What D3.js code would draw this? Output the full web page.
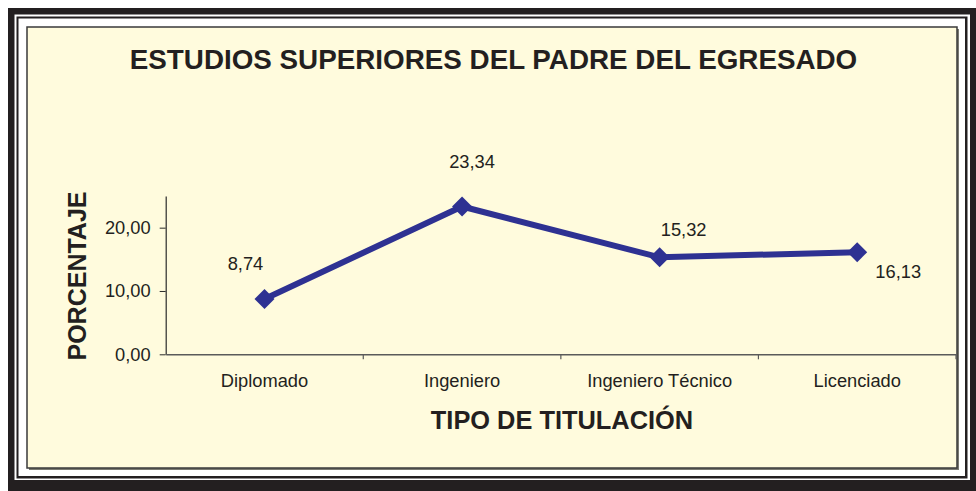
<!DOCTYPE html>
<html>
<head>
<meta charset="utf-8">
<script src="https://cdn.jsdelivr.net/npm/d3@7"></script>
<style>
  body { margin: 0; background: #fff; }
  svg { display: block; }
  text { font-family: Arial, "Liberation Sans", Helvetica, sans-serif; fill: #231f20; }
</style>
</head>
<body>
<svg id="chart"></svg>
<script>
// data
const categories = ["Diplomado", "Ingeniero", "Ingeniero Técnico", "Licenciado"];
const values = [8.74, 23.34, 15.32, 16.13];
const yTicks = [0, 10, 20];

// where Excel dropped each value label, relative to its marker
const labelOffsets = [[-19, -29], [10, -39], [24, -21], [41, 26]];

const width = 976;
const height = 491;
const ink = "#231f20";
const lineColor = "#2e3192";

const svg = d3.select("#chart")
  .attr("width", width)
  .attr("height", height);

// the black / white frame round the panel
svg.append("rect").attr("x", 8).attr("y", 8).attr("width", 968).attr("height", 483).attr("fill", ink);
svg.append("rect").attr("x", 14.5).attr("y", 14.5).attr("width", 955.5).attr("height", 465.5).attr("fill", "#fff");
svg.append("rect").attr("x", 16.5).attr("y", 16.5).attr("width", 951).attr("height", 462).attr("fill", ink);
svg.append("rect").attr("x", 18.5).attr("y", 18.5).attr("width", 946.5).attr("height", 457.5).attr("fill", "#fff");

// panel with a small drop shadow
svg.append("rect").attr("x", 29).attr("y", 29).attr("width", 930).attr("height", 441).attr("fill", "#7a7a72");
svg.append("rect").attr("x", 27).attr("y", 27).attr("width", 930).attr("height", 441)
  .attr("fill", "#fffbdd").attr("stroke", "#3a3a3a").attr("stroke-width", 1.5);

// scales
const x = d3.scaleBand()
  .domain(categories)
  .range([165.7, 956])
  .padding(0);

const y = d3.scaleLinear()
  .domain([0, 25])
  .range([354.3, 196]);

const es = d3.formatLocale({ decimal: ",", thousands: ".", grouping: [3], currency: ["", " €"] });
const fmt = es.format(".2f");

// y axis
const yAxis = svg.append("g")
  .attr("transform", "translate(165.7,0)")
  .call(d3.axisLeft(y).tickValues(yTicks).tickFormat(fmt).tickSize(6).tickSizeOuter(0).tickPadding(9));
yAxis.select(".domain").attr("stroke", "#2a2a2a").attr("stroke-width", 1.2);
yAxis.selectAll(".tick line").attr("stroke", "#2a2a2a");
yAxis.selectAll(".tick text").style("font-size", "18.3px").attr("fill", ink);

// x axis, ticks sit on the category boundaries
const xAxis = svg.append("g")
  .attr("transform", "translate(0,354.3)")
  .call(d3.axisBottom(x).tickSize(0).tickPadding(20));
xAxis.select(".domain").attr("stroke", "#5a5a5a").attr("stroke-width", 1.5);
xAxis.selectAll(".tick text").style("font-size", "18.3px").attr("fill", ink);

xAxis.selectAll(".sep")
  .data(categories)
  .enter()
  .append("line")
  .attr("class", "sep")
  .attr("x1", d => x(d) + x.bandwidth())
  .attr("x2", d => x(d) + x.bandwidth())
  .attr("y1", 0)
  .attr("y2", 5)
  .attr("stroke", "#5a5a5a")
  .attr("stroke-width", 1.2);

// line + diamonds
const line = d3.line()
  .x((d, i) => x(categories[i]) + x.bandwidth() / 2)
  .y(d => y(d));

svg.append("path")
  .datum(values)
  .attr("d", line)
  .attr("fill", "none")
  .attr("stroke", lineColor)
  .attr("stroke-width", 6)
  .attr("stroke-linejoin", "miter");

const diamond = d3.symbol().type(d3.symbolSquare).size(200);

svg.selectAll(".marker")
  .data(values)
  .enter()
  .append("path")
  .attr("class", "marker")
  .attr("d", diamond)
  .attr("transform", (d, i) => `translate(${x(categories[i]) + x.bandwidth() / 2},${y(d)}) rotate(45)`)
  .attr("fill", lineColor);

// value labels
svg.selectAll(".value")
  .data(values)
  .enter()
  .append("text")
  .attr("class", "value")
  .attr("text-anchor", "middle")
  .attr("x", (d, i) => x(categories[i]) + x.bandwidth() / 2 + labelOffsets[i][0])
  .attr("y", (d, i) => y(d) + labelOffsets[i][1])
  .style("font-size", "18.3px")
  .text(d => fmt(d));

// titles
svg.append("text")
  .attr("x", 493.5)
  .attr("y", 69)
  .attr("text-anchor", "middle")
  .style("font-size", "27.8px")
  .style("font-weight", "bold")
  .text("ESTUDIOS SUPERIORES DEL PADRE DEL EGRESADO");

svg.append("text")
  .attr("x", 562)
  .attr("y", 429.3)
  .attr("text-anchor", "middle")
  .style("font-size", "25.4px")
  .style("font-weight", "bold")
  .text("TIPO DE TITULACIÓN");

svg.append("text")
  .attr("transform", "translate(86,276) rotate(-90)")
  .attr("text-anchor", "middle")
  .style("font-size", "25px")
  .style("font-weight", "bold")
  .text("PORCENTAJE");
</script>
</body>
</html>
